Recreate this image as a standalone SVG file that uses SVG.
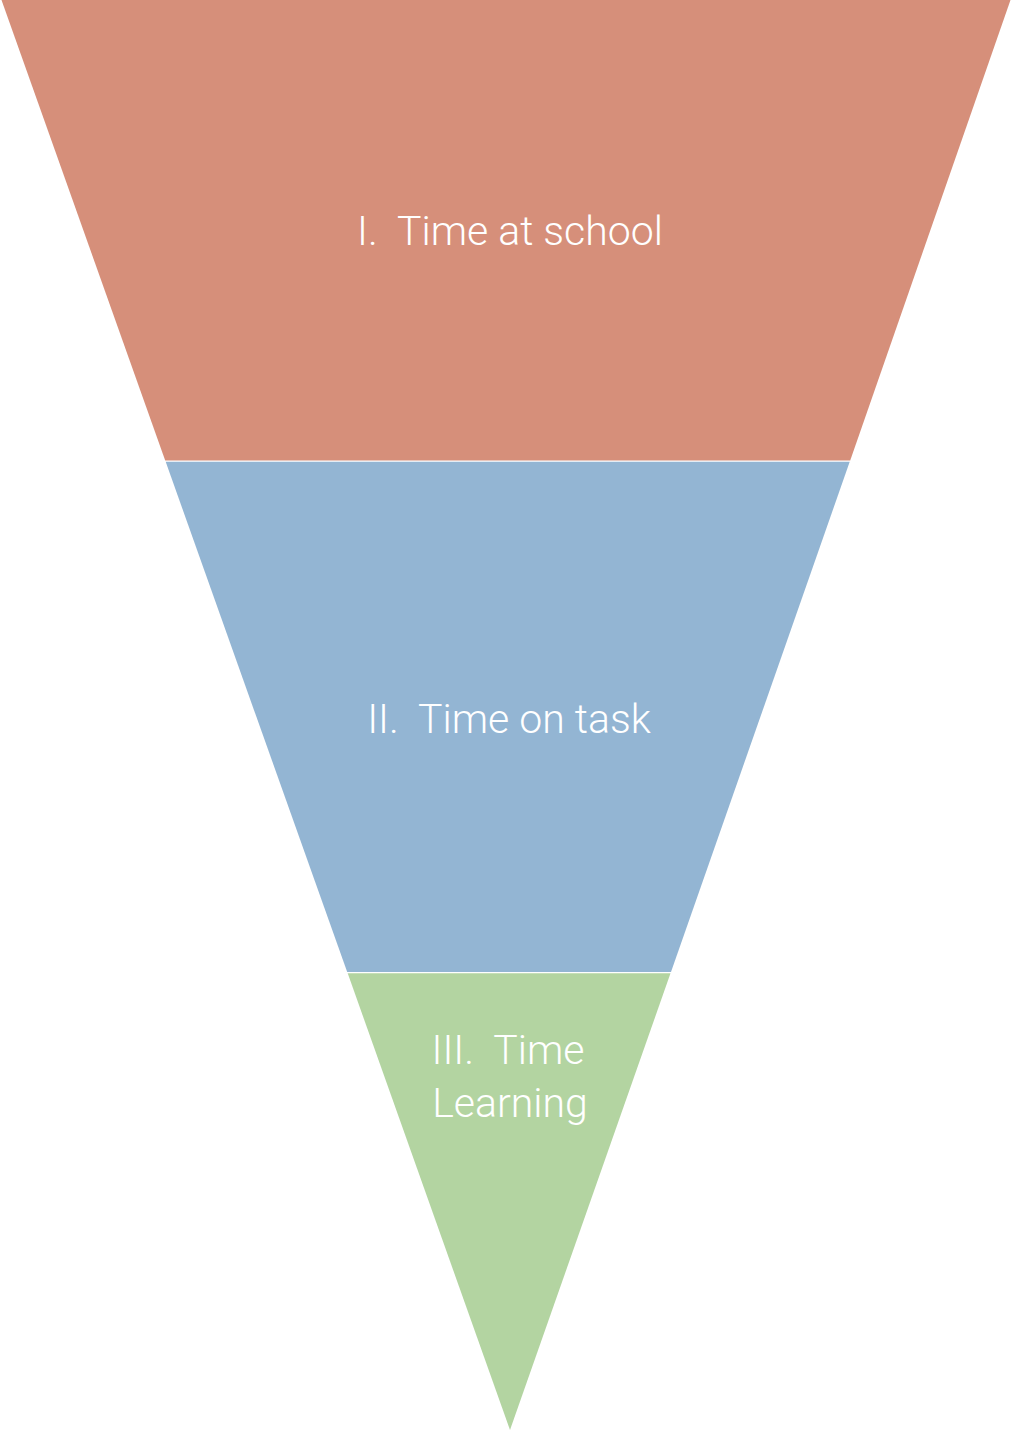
<svg xmlns="http://www.w3.org/2000/svg" width="1012" height="1430" viewBox="0 0 1012 1430">
<style>
.lbl{font-family:Roboto,"Liberation Sans",sans-serif;font-weight:300;font-size:41px;fill:#ffffff;text-anchor:middle}
</style>
<rect width="1012" height="1430" fill="#ffffff"/>
<g id="level1">
<polygon points="1.5,0 1010.5,0 850.2,460.5 165.2,460.5" fill="#D68F7A"/>
<text class="lbl" x="510" y="245" xml:space="preserve">I.  Time at school</text>
</g>
<g id="level2">
<polygon points="165.7,461.8 849.7,461.8 671,972 347.2,972" fill="#93B5D3"/>
<text class="lbl" x="509" y="733" xml:space="preserve">II.  Time on task</text>
</g>
<g id="level3">
<polygon points="347.7,973.3 670.5,973.3 510,1430" fill="#B3D4A1"/>
<text class="lbl" x="508" y="1064" xml:space="preserve">III.  Time</text>
<text class="lbl" x="510" y="1117">Learning</text>
</g>
<g id="connectors"/>
</svg>
